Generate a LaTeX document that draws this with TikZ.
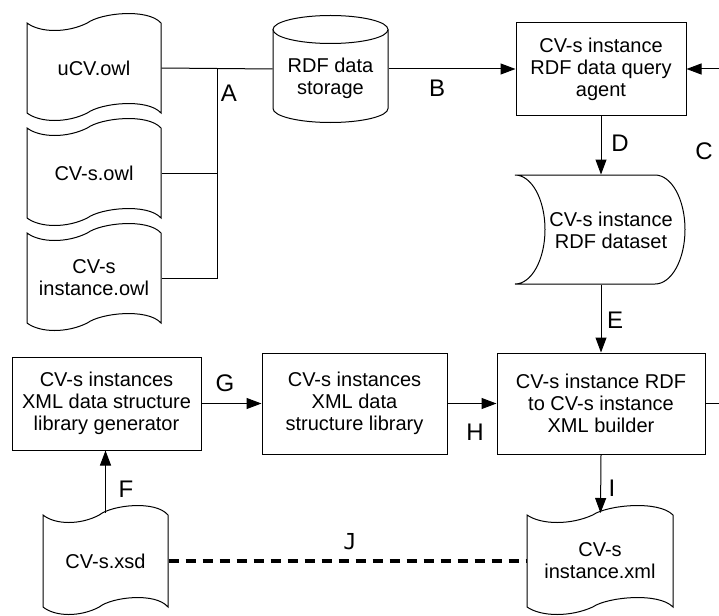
\documentclass[tikz,border=0pt]{standalone}
\usepackage{fontspec}
\setmainfont{Liberation Sans}
\newfontfamily\jfont{DejaVu Sans Mono}
\usetikzlibrary{arrows.meta}
% tape-shaped document: name, cx, cy, width, delta (corner to corner), text
\newcommand{\tapedoc}[6]{%
  \pgfmathsetmacro{\tL}{#2-#4/2}%
  \pgfmathsetmacro{\tR}{#2+#4/2}%
  \pgfmathsetmacro{\tA}{#3-#5/2}%
  \pgfmathsetmacro{\tB}{#3+#5/2}%
  \pgfmathsetmacro{\xa}{\tL+0.1*#4}%
  \pgfmathsetmacro{\xb}{\tL+0.3*#4}%
  \pgfmathsetmacro{\xc}{\tL+0.45*#4}%
  \pgfmathsetmacro{\xd}{\tL+0.55*#4}%
  \pgfmathsetmacro{\xe}{\tL+0.9*#4}%
  \pgfmathsetmacro{\yAd}{\tA+10}%
  \pgfmathsetmacro{\yAu}{\tA-10}%
  \pgfmathsetmacro{\yAuu}{\tA-15}%
  \pgfmathsetmacro{\yBd}{\tB+10}%
  \pgfmathsetmacro{\yBu}{\tB-10}%
  \pgfmathsetmacro{\yBuu}{\tB-15}%
  \draw[shp] (\tL,\tA) .. controls (\xa,\yAd) and (\xb,\yAd) .. (\xc,\tA)
     .. controls (\xd,\yAu) and (\xe,\yAuu) .. (\tR,\tA)
     -- (\tR,\tB)
     .. controls (\xe,\yBuu) and (\xd,\yBu) .. (\xc,\tB)
     .. controls (\xb,\yBd) and (\xa,\yBd) .. (\tL,\tB) -- cycle;
  \node[txt, minimum width=#4pt, minimum height=#5pt] (#1) at (#2,#3) {#6};%
}
\begin{document}
\begin{tikzpicture}[x=1pt,y=-1pt, line width=1pt,
  txt/.style={align=center, font=\fontsize{20}{22}\selectfont, inner sep=0pt},
  box/.style={txt, draw, fill=white},
  lbl/.style={font=\fontsize{24}{24}\selectfont, inner sep=0pt},
  arr/.style={-{Triangle[length=15pt,width=11pt]}},
  shp/.style={draw, fill=white, line width=1pt}]
\useasboundingbox (0,0) rectangle (719,615);

% ontology documents
\tapedoc{ucv}{94}{68}{134}{90}{uCV.owl}
\tapedoc{cvs}{94}{173}{134}{90}{CV-s.owl}
\tapedoc{cvsi}{94}{278}{134}{90}{CV-s\\instance.owl}

% RDF data storage (cylinder)
\node[minimum width=115pt, minimum height=107pt, inner sep=0pt] (storage) at (330.5,69) {};
\draw[shp] (273,29.5) -- (273,108.5) arc[start angle=180, end angle=360, x radius=57.5pt, y radius=14pt] -- (388,29.5);
\draw[shp] (330.5,29.5) ellipse[x radius=57.5pt, y radius=14pt];
\node[txt] (storagetext) at (330.5,78) {RDF data\\storage};

% boxes
\node[box, minimum width=170pt, minimum height=92pt] (query) at (601,69) {CV-s instance\\RDF data query\\agent};
\node[box, minimum width=208pt, minimum height=101pt] (builder) at (601,403.5) {CV-s instance RDF\\to CV-s instance\\XML builder};
\node[box, minimum width=189pt, minimum height=93pt] (generator) at (106.5,403.5) {CV-s instances\\XML data structure\\library generator};
\node[box, minimum width=185pt, minimum height=101pt] (library) at (354.5,403.5) {CV-s instances\\XML data\\structure library};

% dataset (stored data shape)
\node[minimum width=170pt, minimum height=109pt, inner sep=0pt] (dataset) at (600,229.5) {};
\draw[shp] (515,175) -- (655,175) arc[start angle=90, end angle=-90, x radius=30pt, y radius=54.5pt]
   -- (515,284) arc[start angle=-90, end angle=90, x radius=30pt, y radius=54.5pt] -- cycle;
\node[txt] (datasettext) at (611,230) {CV-s instance\\RDF dataset};

% xml documents
\tapedoc{xsd}{105.5}{561}{125}{92}{CV-s.xsd}
\tapedoc{xml}{600}{561}{146}{92}{CV-s\\instance.xml}
\coordinate (xsdtop) at (105.5,513);
\coordinate (xmltop) at (600.5,513);

% connectors
\coordinate (bus) at (217,69);
\draw (ucv.east) -- (storage.west);
\draw (cvs.east) -- (cvs.east -| bus);
\draw (cvsi.east) -| (bus);
\draw[arr] (storage.east) -- (query.west);
\draw[arr] (builder.east) -- ++(40,0) |- (query.east);
\draw[arr] (query.south) -- (query.south |- dataset.north);
\draw[arr] (dataset.south -| query.south) -- (builder.north);
\draw[arr] (generator.east) -- (library.west);
\draw[arr] (library.east) -- (builder.west);
\draw[arr] (xsdtop) -- (xsdtop |- generator.south);
\draw[arr] (builder.south) -- (xmltop);
\draw[line width=4pt, dash pattern=on 10pt off 7pt] (xsd.east) -- (xml.west);

% labels
\node[lbl] (lA) at (229,93) {A};
\node[lbl] (lB) at (437,88) {B};
\node[lbl] (lC) at (704,151) {C};
\node[lbl] (lD) at (620,143) {D};
\node[lbl] (lE) at (615,320) {E};
\node[lbl] (lF) at (126,489) {F};
\node[lbl] (lG) at (225,383) {G};
\node[lbl] (lH) at (475,432) {H};
\node[lbl] (lI) at (612,488) {I};
\node[font=\jfont\fontsize{22}{22}\selectfont, inner sep=0pt] (lJ) at (350,542) {J};
\end{tikzpicture}
\end{document}
